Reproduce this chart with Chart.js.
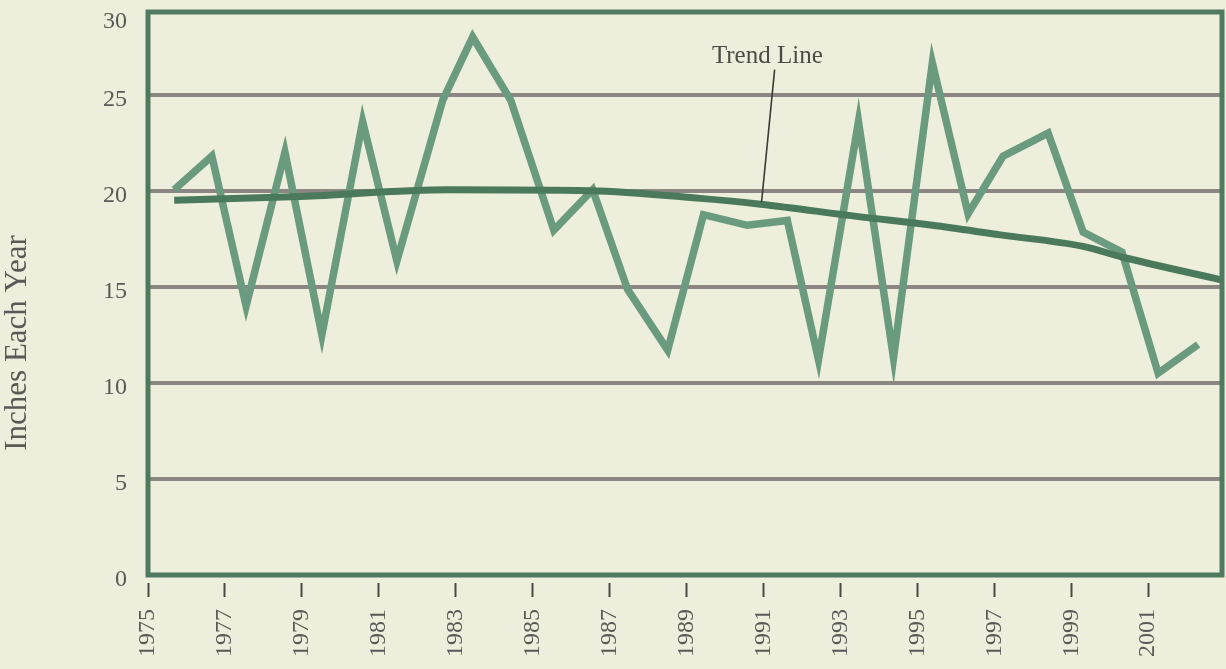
<!DOCTYPE html>
<html>
<head>
<meta charset="utf-8">
<script src="https://cdn.jsdelivr.net/npm/chart.js@4.4.1/dist/chart.umd.min.js"></script>
<style>
  html, body { margin: 0; padding: 0; background: #eeeedc; }
  #wrap { width: 1226px; height: 669px; }
</style>
</head>
<body>
<div id="wrap"><canvas id="rainCanvas" width="1226" height="669"></canvas></div>
<script>
// ── Data ─────────────────────────────────────────────────────
const rainYears  = [1975.68, 1976.66, 1977.55, 1978.56, 1979.52, 1980.58, 1981.47, 1982.66, 1983.44, 1984.43,
                    1985.55, 1986.56, 1987.47, 1988.51, 1989.44, 1990.58, 1991.62, 1992.43, 1993.47, 1994.38,
                    1995.39, 1996.32, 1997.23, 1998.40, 1999.31, 2000.32, 2001.26, 2002.30];
const rainInches = [20.05, 21.8, 14.0, 22.0, 12.5, 23.6, 16.35, 24.7, 28.0, 24.7,
                    17.95, 20.05, 14.85, 11.7, 18.75, 18.2, 18.45, 11.2, 23.6, 11.3,
                    26.65, 18.8, 21.8, 23.0, 17.85, 16.8, 10.5, 12.0];

const trendYears  = [1975.68, 1978.97, 1982.82, 1986.5, 1989.36, 1990.92, 1993.47, 1995.39, 1997.16, 1999.31, 2000.32, 2002.92];
const trendInches = [19.5, 19.7, 20.05, 20.0, 19.6, 19.3, 18.65, 18.2, 17.7, 17.1, 16.55, 15.35];

const xTickYears  = [1975, 1977, 1979, 1981, 1983, 1985, 1987, 1989, 1991, 1993, 1995, 1997, 1999, 2001];
const yTickValues = [0, 5, 10, 15, 20, 25, 29.06];
const yTickLabels = ['0', '5', '10', '15', '20', '25', '30'];

const trendNote = { text: 'Trend Line', x: 1991.1, y: 27.0, fromX: 1991.29, fromY: 26.3, toX: 1990.95, toY: 19.4 };

// ── Colours ──────────────────────────────────────────────────
const BG    = '#eeeedc';
const RAIN  = '#6b9b7e';
const TREND = '#4a7a5b';
const FRAME = '#4f7a60';
const GRID  = '#8c8682';
const TEXT  = '#575a55';
const SERIF = '"Liberation Serif", "DejaVu Serif", serif';

// ── Plugins ──────────────────────────────────────────────────
const paperPlugin = {
  id: 'paper',
  beforeDraw(chart) {
    const c = chart.ctx;
    c.save();
    c.fillStyle = BG;
    c.fillRect(0, 0, chart.width, chart.height);
    c.restore();
  },
  afterDraw(chart) {
    const c = chart.ctx, a = chart.chartArea;
    const xs = chart.scales.x, ys = chart.scales.y;
    c.save();
    // frame
    c.strokeStyle = FRAME;
    c.lineWidth = 5;
    c.strokeRect(a.left, a.top, a.right - a.left, a.bottom - a.top);
    // y title
    c.translate(18, a.top + 331);
    c.rotate(-Math.PI / 2);
    c.fillStyle = TEXT;
    c.font = '31px ' + SERIF;
    c.textAlign = 'center';
    c.textBaseline = 'middle';
    c.fillText('Inches Each Year', 0, 0);
    c.restore();
    // trend note
    c.save();
    c.fillStyle = '#4a4c46';
    c.font = '25px ' + SERIF;
    c.textAlign = 'center';
    c.textBaseline = 'middle';
    c.fillText(trendNote.text, xs.getPixelForValue(trendNote.x), ys.getPixelForValue(trendNote.y));
    c.strokeStyle = '#3a3c38';
    c.lineWidth = 1.6;
    c.beginPath();
    c.moveTo(xs.getPixelForValue(trendNote.fromX), ys.getPixelForValue(trendNote.fromY));
    c.lineTo(xs.getPixelForValue(trendNote.toX), ys.getPixelForValue(trendNote.toY));
    c.stroke();
    c.restore();
  }
};

// ── Chart ────────────────────────────────────────────────────
new Chart(document.getElementById('rainCanvas'), {
  type: 'line',
  data: {
    datasets: [
      {
        label: 'Trend',
        data: trendYears.map((x, i) => ({ x, y: trendInches[i] })),
        borderColor: TREND, borderWidth: 7, pointRadius: 0,
        cubicInterpolationMode: 'monotone', borderCapStyle: 'butt'
      },
      {
        label: 'Inches',
        data: rainYears.map((x, i) => ({ x, y: rainInches[i] })),
        borderColor: RAIN, borderWidth: 7.5, pointRadius: 0, tension: 0,
        borderJoinStyle: 'miter', borderCapStyle: 'butt'
      }
    ]
  },
  options: {
    responsive: false,
    animation: false,
    layout: { padding: { top: 12, right: 4, left: 0, bottom: 0 } },
    plugins: { legend: { display: false }, tooltip: { enabled: false } },
    scales: {
      x: {
        type: 'linear', min: 1975, max: 2002.92,
        afterBuildTicks: s => { s.ticks = xTickYears.map(v => ({ value: v })); },
        afterFit: s => { s.height = 94; s.paddingLeft = 0; s.paddingRight = 0; s.paddingTop = 0; s.paddingBottom = 0; },
        border: { display: false },
        grid: {
          drawOnChartArea: false, drawTicks: true, tickLength: 22,
          tickColor: '#4a4a48', tickWidth: 2, tickBorderDash: [0, 8, 14, 100]
        },
        ticks: {
          autoSkip: false, minRotation: 90, maxRotation: 90, padding: 12,
          color: TEXT, font: { family: SERIF, size: 24 },
          callback: v => String(v)
        }
      },
      y: {
        min: 0, max: 29.3,
        afterBuildTicks: s => { s.ticks = yTickValues.map(v => ({ value: v })); },
        afterFit: s => { s.width = 148; s.paddingTop = 0; s.paddingBottom = 0; s.paddingLeft = 0; s.paddingRight = 0; },
        border: { display: false },
        grid: {
          drawTicks: false, lineWidth: 4,
          color: ctx => (ctx.index === 0 || ctx.index === yTickValues.length - 1) ? 'rgba(0,0,0,0)' : GRID
        },
        ticks: {
          padding: 21, labelOffset: 5,
          color: TEXT, font: { family: SERIF, size: 24 },
          callback: (v, i) => yTickLabels[i]
        }
      }
    }
  },
  plugins: [paperPlugin]
});
</script>
</body>
</html>
